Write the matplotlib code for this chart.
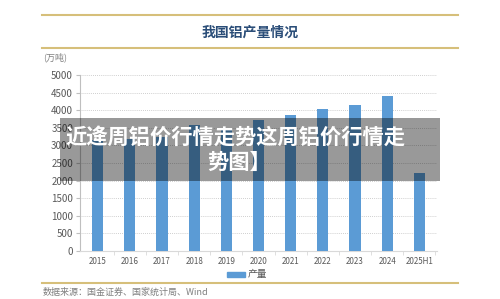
import matplotlib
matplotlib.use("Agg")
import matplotlib.pyplot as plt
from matplotlib.lines import Line2D
from matplotlib.patches import Rectangle

plt.rcParams['font.family'] = ['Noto Sans CJK SC', 'DejaVu Sans']

categories = ['2015', '2016', '2017', '2018', '2019', '2020', '2021', '2022', '2023', '2024', '2025H1']
production = [3141, 3187, 3227, 3580, 3504, 3708, 3850, 4021, 4159, 4400, 2224]
yticks = [0, 500, 1000, 1500, 2000, 2500, 3000, 3500, 4000, 4500, 5000]

W, H = 500, 299
fig = plt.figure(figsize=(5.0, 2.99), dpi=100)
fig.patch.set_facecolor('white')

def fx(x):
    return x / W

def fy(y):
    return 1 - y / H

ax = fig.add_axes([fx(80), fy(251), fx(437) - fx(80), fy(75) - fy(251)])
x = list(range(len(categories)))
ax.bar(x, production, width=0.35, color='#5B9BD5', zorder=3)
ax.set_xlim(-0.55, len(categories) - 0.45)
ax.set_ylim(0, 5000)
ax.set_yticks(yticks)
ax.set_yticklabels([str(v) for v in yticks], fontsize=7, color='#595959')
ax.set_xticks(x)
ax.set_xticklabels(categories, fontsize=5.8, color='#595959')
ax.tick_params(axis='x', length=0, pad=4)
ax.tick_params(axis='y', length=3, color='#BFBFBF', pad=2, direction='out')
ax.set_xticks([i + 0.5 for i in x], minor=True)
ax.tick_params(axis='x', which='minor', length=3, color='#D9D9D9')
for s in ['top', 'right']:
    ax.spines[s].set_visible(False)
ax.spines['left'].set_color('#BFBFBF')
ax.spines['bottom'].set_color('#D9D9D9')
ax.spines['left'].set_linewidth(0.8)
ax.spines['bottom'].set_linewidth(0.8)
ax.grid(axis='y', linestyle=(0, (1, 1.5)), color='#BFBFBF', linewidth=0.6, zorder=0)
ax.set_axisbelow(True)

gold = '#D6BF7A'
for yy in [15, 48, 283]:
    fig.add_artist(Line2D([fx(42), fx(458)], [fy(yy), fy(yy)], color=gold, linewidth=1.5))

fig.text(fx(250), fy(33), '我国铝产量情况', ha='center', va='center', fontsize=10,
         fontweight='bold', color='#2A4D78')
fig.text(fx(43), fy(57), '(万吨)', ha='left', va='center', fontsize=6.5, color='#7F7F7F')

# legend
fig.add_artist(Rectangle((fx(227), fy(276.5)), fx(245) - fx(227), fy(272) - fy(276.5),
                         color='#5B9BD5'))
fig.text(fx(248), fy(274), '产量', ha='left', va='center', fontsize=7, color='#595959')

fig.text(fx(43), fy(292), '数据来源：国金证券、国家统计局、Wind', ha='left', va='center',
         fontsize=6.5, color='#7F7F7F')

# overlay banner
fig.add_artist(Rectangle((fx(60), fy(181)), fx(440) - fx(60), fy(118) - fy(181),
                         facecolor='black', alpha=0.4, edgecolor='none', zorder=10))
fig.text(fx(236), fy(137), '近逄周铝价行情走势这周铝价行情走', ha='center', va='center',
         fontsize=15.3, fontweight='bold', color='white', zorder=11)
fig.text(fx(239), fy(162), '势图】', ha='center', va='center',
         fontsize=15.3, fontweight='bold', color='white', zorder=11)

fig.savefig('out.png', dpi=100, facecolor='white')
